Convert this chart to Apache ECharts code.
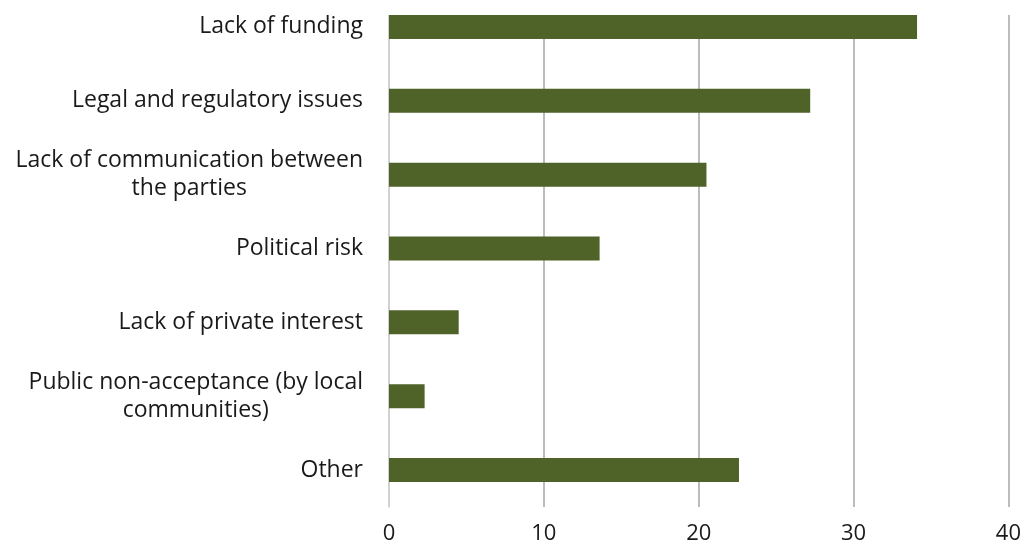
<!DOCTYPE html>
<html>
<head>
<meta charset="utf-8">
<script src="https://cdn.jsdelivr.net/npm/echarts@6/dist/echarts.min.js"></script>
<style>
  html, body { margin: 0; padding: 0; background: #ffffff; overflow: hidden; }
  #chart { width: 1024px; height: 558px; margin-top: -10px; }
</style>
</head>
<body>
<div id="chart"></div>
<script>
// Obstacles, listed top to bottom
const categories = [
  'Lack of funding',
  'Legal and regulatory issues',
  'Lack of communication between\nthe parties',
  'Political risk',
  'Lack of private interest',
  'Public non-acceptance (by local\ncommunities)',
  'Other'
];
const values = [34.1, 27.2, 20.5, 13.6, 4.5, 2.3, 22.6];
const xTicks = [0, 10, 20, 30, 40];

const FONT = '"Open Sans", Lato, sans-serif';
const LABEL_SIZE = 23;
const chart = echarts.init(document.getElementById('chart'));

chart.setOption({
  animation: false,
  backgroundColor: '#ffffff',
  grid: { left: 389, right: 14, top: 0, bottom: 41, containLabel: false },
  xAxis: {
    type: 'value',
    min: xTicks[0],
    max: xTicks[xTicks.length - 1],
    interval: 10,
    axisLine: { show: false },
    axisTick: { show: false },
    splitLine: { show: true, lineStyle: { color: '#a6a6a6', width: 1.5 } },
    axisLabel: {
      margin: 16,
      color: '#1a1a1a',
      fontFamily: FONT,
      fontSize: 22,
      formatter: v => String(v)
    }
  },
  yAxis: {
    type: 'category',
    inverse: true,
    data: categories,
    axisLine: { show: true, lineStyle: { color: '#d9d9d9', width: 1.5 } },
    axisTick: { show: false },
    axisLabel: {
      margin: 26,
      align: 'right',
      color: '#1a1a1a',
      fontFamily: FONT,
      fontSize: LABEL_SIZE,
      lineHeight: 28,
      formatter: v => v.split('\n').map(s => '{c|' + s + '}').join('\n'),
      rich: {
        c: { align: 'center', fontFamily: FONT, fontSize: LABEL_SIZE, lineHeight: 28, color: '#1a1a1a' }
      }
    }
  },
  series: [{
    type: 'bar',
    data: values,
    barWidth: 24,
    itemStyle: { color: '#4f6228' }
  }],
  graphic: [{
    // plot frame starts just above the first bar
    type: 'rect',
    z: 100,
    shape: { x: 380, y: 0, width: 644, height: 25 },
    style: { fill: '#ffffff' }
  }]
});
</script>
</body>
</html>
